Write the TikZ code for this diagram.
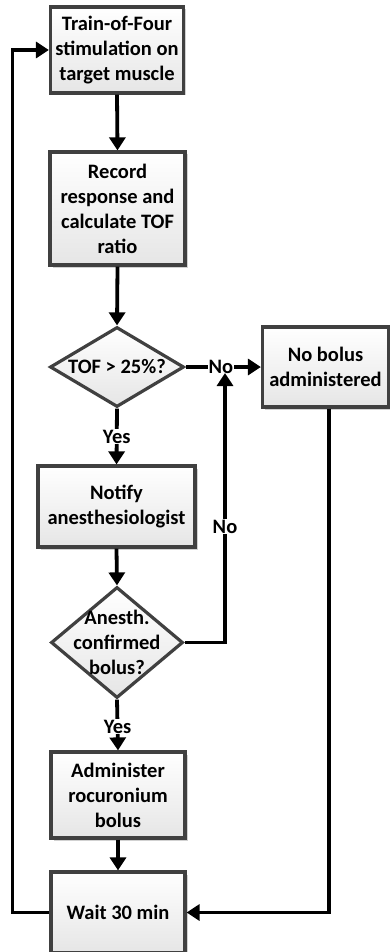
\documentclass[tikz,border=0pt]{standalone}
\usepackage{fontspec}
\setmainfont{Carlito}
\usetikzlibrary{shapes.geometric,arrows.meta,shadows,calc}

\tikzset{
  flowbox/.style={rectangle, draw=black!75, line width=3.2pt,
    top color=white, bottom color=black!10,
    drop shadow={shadow xshift=2.5pt, shadow yshift=-2.5pt, fill=black!30, opacity=0.6},
    inner sep=0pt, align=center},
  decision/.style={diamond, draw=black!75, line width=3.2pt,
    top color=white, bottom color=black!10,
    inner sep=0pt},
  lbl/.style={font=\fontsize{20.5}{25}\selectfont\bfseries, align=center, inner sep=0pt},
  conn/.style={line width=3.8pt, black},
  arr/.style={conn, -{Triangle[length=13pt,width=16pt]}},
  tag/.style={lbl, fill=white, inner sep=1pt}
}

\begin{document}
\begin{tikzpicture}[x=1pt,y=-1pt]
  \useasboundingbox (0,0) rectangle (390,952);
  \clip (0,0) rectangle (390,952);

  % process steps
  \node[flowbox, minimum width=133pt, minimum height=86pt] (b1) at (117,50) {};
  \node[lbl] (b1t) at (b1) {Train-of-Four\\stimulation on\\target muscle};

  \node[flowbox, minimum width=135pt, minimum height=113pt] (b2) at (117.5,208.5) {};
  \node[lbl] (b2t) at (b2) {Record\\response and\\calculate TOF\\ratio};

  \node[decision, minimum width=134pt, minimum height=80pt] (d1) at (117,367) {};
  \node[lbl] (d1t) at (d1) {TOF > 25\%?};

  \node[flowbox, minimum width=126pt, minimum height=80pt] (nb) at (325.5,367) {};
  \node[lbl] (nbt) at (nb) {No bolus\\administered};

  \node[flowbox, minimum width=157pt, minimum height=81pt] (b3) at (116.5,506.5) {};
  \node[lbl] (b3t) at (b3) {Notify\\anesthesiologist};

  \node[decision, minimum width=132pt, minimum height=111pt] (d2) at (117,642.5) {};
  \node[lbl] (d2t) at (d2) {Anesth.\\confirmed\\bolus?};

  \node[flowbox, minimum width=134pt, minimum height=86pt] (b4) at (118,795) {};
  \node[lbl] (b4t) at (b4) {Administer\\rocuronium\\bolus};

  \node[flowbox, minimum width=134pt, minimum height=81pt] (b5) at (118,912.5) {};
  \node[lbl] (b5t) at (b5) {Wait 30 min};

  % connectors
  \draw[arr] (b1.south) -- (b2.north);
  \draw[arr] (b2.south) -- (d1.north);
  \coordinate (nox) at (225,373);
  \draw[arr] (d1.east) -- node[tag, pos=0.47] (no1) {No} (nb.west);
  \draw[arr] (d1.south) -- node[tag, pos=0.5] (yes1) {Yes} (b3.north);
  \draw[arr] (b3.south) -- (d2.north);
  \draw[arr] (d2.east) -- (d2.east -| nox) -- node[tag, pos=0.43] (no2) {No} (nox);
  \draw[arr] (d2.south) -- node[tag, pos=0.53] (yes2) {Yes} (b4.north);
  \draw[arr] (b4.south) -- (b5.north);
  \coordinate (nbx) at ($(nb.south)+(3.5,0)$);
  \draw[arr] (nbx) |- (b5.east);
  \coordinate (loopx) at (12.5,0);
  \draw[arr] (b5.west) -- (b5.west -| loopx) |- (b1.west);
\end{tikzpicture}
\end{document}
